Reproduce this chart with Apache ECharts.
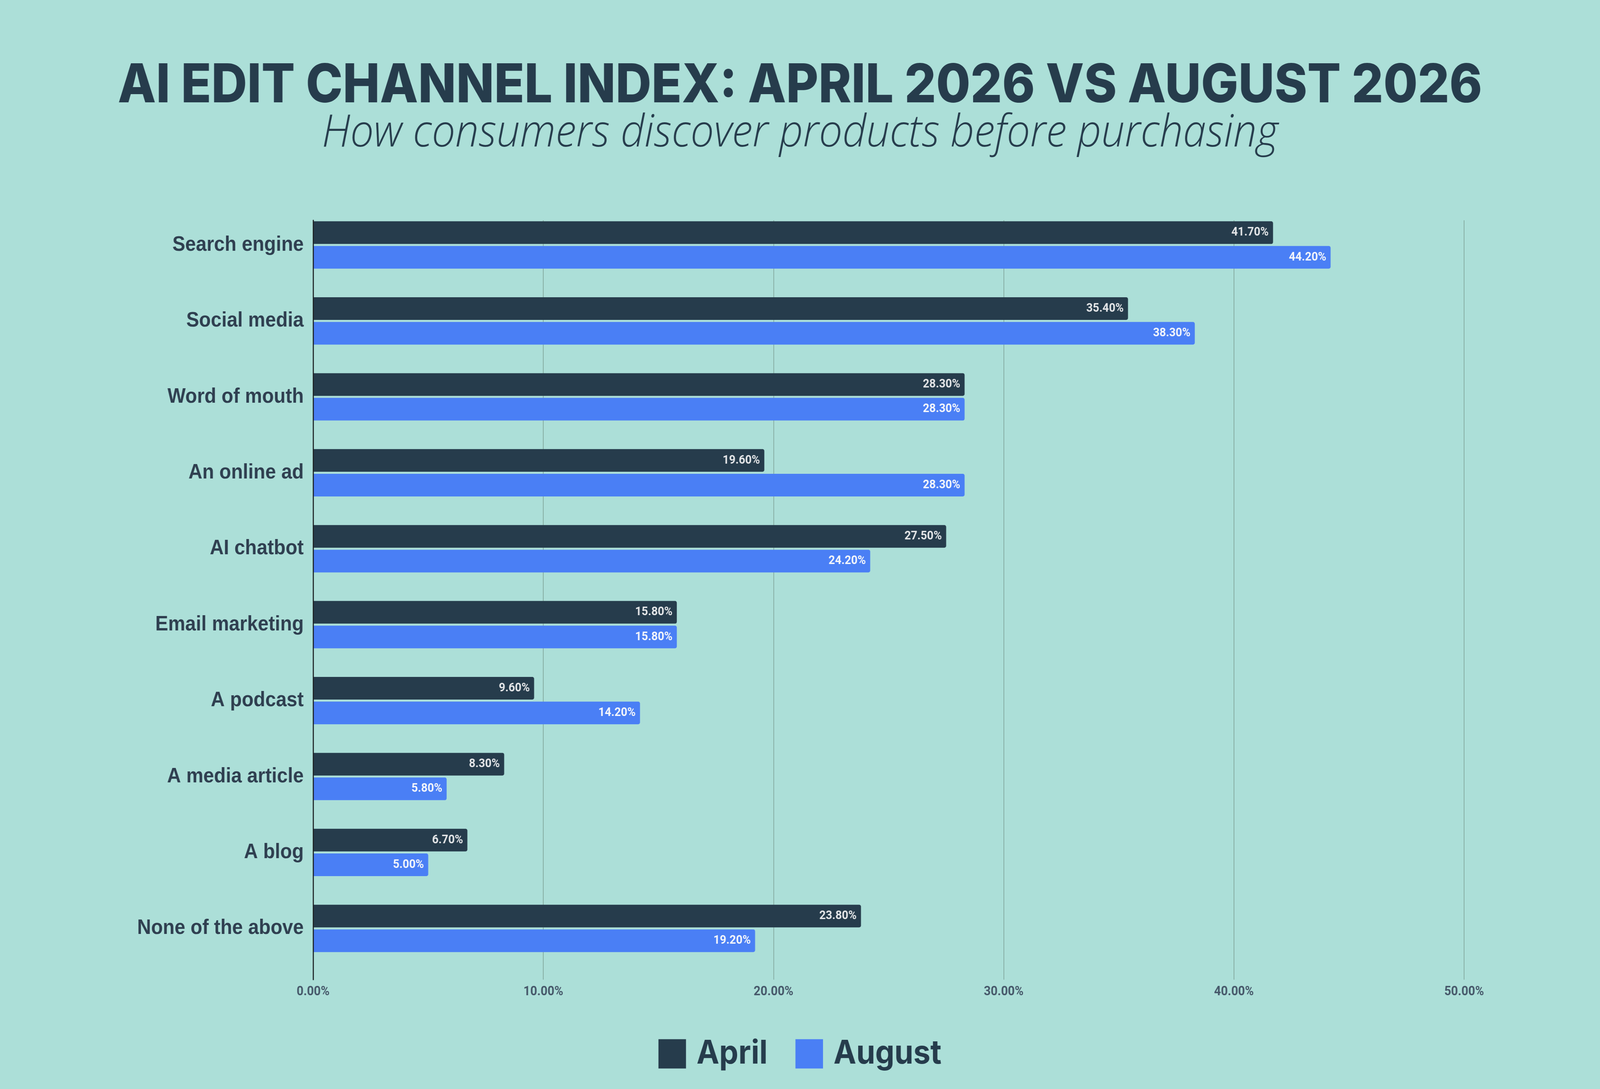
<!DOCTYPE html>
<html>
<head>
<meta charset="utf-8">
<title>AI Edit Channel Index</title>
<script src="https://cdn.jsdelivr.net/npm/echarts@6/dist/echarts.min.js"></script>
<style>
    html, body { margin: 0; padding: 0; background: #acdfd8; overflow: hidden; }
    #main { width: 4415px; height: 2788px; transform-origin: 0 0; }
</style>
</head>
<body>
<div id="main"></div>
<script>
// channels, top to bottom
var channels = ['Search engine', 'Social media', 'Word of mouth', 'An online ad', 'AI chatbot',
    'Email marketing', 'A podcast', 'A media article', 'A blog', 'None of the above'];
var april = [41.7, 35.4, 28.3, 19.6, 27.5, 15.8, 9.6, 8.3, 6.7, 23.8];
var august = [44.2, 38.3, 28.3, 28.3, 24.2, 15.8, 14.2, 5.8, 5.0, 19.2];
var seriesNames = ['April', 'August'];
var xTicks = [0, 10, 20, 30, 40, 50];

var dark = '#263c4c';
var blue = '#4a7ff5';

// the chart is laid out at 4415 x 2788; squeeze it into the window if that is smaller
var el = document.getElementById('main');
el.style.transform = 'scale(' + (window.innerWidth / 4415) + ',' + (window.innerHeight / 2788) + ')';

var chart = echarts.init(el);

function pct(v) {
    return Number(v).toFixed(2) + '%';
}

var option = {
    backgroundColor: '#acdfd8',
    animation: false,
    title: [
        {
            text: 'AI EDIT CHANNEL INDEX: APRIL 2026 VS AUGUST 2026',
            left: 'center',
            top: 147,
            textStyle: {
                fontFamily: 'Inter',
                fontWeight: 800,
                fontSize: 137,
                color: dark
            }
        },
        {
            text: 'How consumers discover products before purchasing',
            left: 'center',
            top: 280,
            textStyle: {
                fontFamily: 'Open Sans',
                fontStyle: 'italic',
                fontWeight: 300,
                fontSize: 115,
                color: dark
            }
        }
    ],
    legend: {
        data: seriesNames,
        left: 'center',
        top: 2651,
        icon: 'rect',
        itemWidth: 76,
        itemHeight: 75,
        itemGap: 77,
        textStyle: {
            fontFamily: 'Inter',
            fontWeight: 'bold',
            fontSize: 84,
            color: dark,
            padding: [0, 0, 0, 24]
        }
    },
    grid: [
        // bars
        {left: 864, width: 3176, top: 530, height: 1944},
        // axis lines, gridlines and tick labels
        {left: 864, width: 3176, top: 564, height: 1944}
    ],
    xAxis: [
        {
            gridIndex: 0,
            type: 'value',
            min: 0,
            max: 50,
            interval: 10,
            show: false
        },
        {
            gridIndex: 1,
            type: 'value',
            min: xTicks[0],
            max: xTicks[xTicks.length - 1],
            interval: 10,
            axisLine: {show: false},
            axisTick: {show: false},
            splitLine: {lineStyle: {color: '#84a99f', width: 2}},
            axisLabel: {
                margin: 15,
                fontFamily: 'Roboto',
                fontWeight: 'bold',
                fontSize: 33,
                color: '#46586a',
                formatter: pct
            }
        }
    ],
    yAxis: [
        {
            gridIndex: 0,
            type: 'category',
            inverse: true,
            data: channels,
            axisLine: {show: false},
            axisTick: {show: false},
            axisLabel: {
                margin: 26,
                fontFamily: 'Liberation Sans',
                fontWeight: 'bold',
                fontSize: 53,
                color: '#2f3f50'
            }
        },
        {
            gridIndex: 1,
            type: 'value',
            z: 5,
            axisLine: {show: true, lineStyle: {color: '#1b1f22', width: 3}},
            axisTick: {show: false},
            axisLabel: {show: false},
            splitLine: {show: false}
        }
    ],
    series: [
        {
            name: seriesNames[0],
            type: 'bar',
            xAxisIndex: 0,
            yAxisIndex: 0,
            data: april,
            barWidth: 58,
            barGap: '9%',
            itemStyle: {color: dark, borderRadius: [0, 5, 5, 0]},
            label: {
                show: true,
                position: 'insideRight',
                distance: 12,
                fontFamily: 'Roboto',
                fontWeight: 'bold',
                fontSize: 31,
                color: '#e4e6e8',
                formatter: function (p) { return pct(p.value); }
            }
        },
        {
            name: seriesNames[1],
            type: 'bar',
            xAxisIndex: 0,
            yAxisIndex: 0,
            data: august,
            barWidth: 58,
            barGap: '9%',
            itemStyle: {color: blue, borderRadius: [0, 5, 5, 0]},
            label: {
                show: true,
                position: 'insideRight',
                distance: 12,
                fontFamily: 'Roboto',
                fontWeight: 'bold',
                fontSize: 31,
                color: '#f4f6fb',
                formatter: function (p) { return pct(p.value); }
            }
        }
    ]
};

chart.setOption(option);
</script>
</body>
</html>
